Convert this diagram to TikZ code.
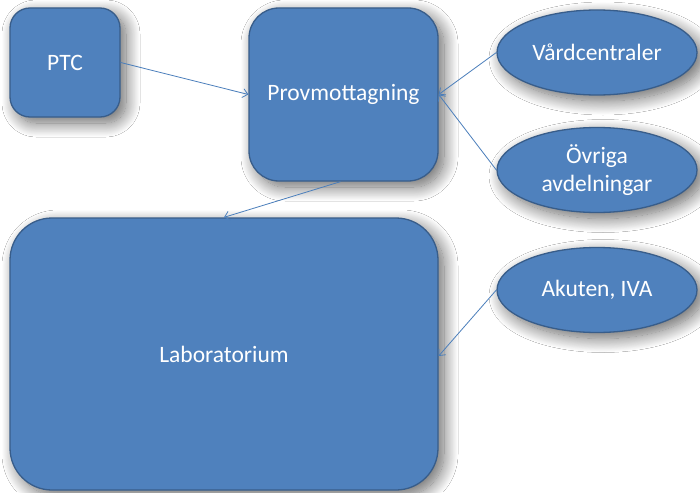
\documentclass[tikz,border=0pt]{standalone}
\usepackage{fontspec}
\setmainfont{Carlito}
\usetikzlibrary{shadows.blur,arrows.meta,shapes.geometric}
\definecolor{boxfill}{HTML}{4F81BD}
\definecolor{boxline}{HTML}{385D8A}
\definecolor{linkline}{HTML}{4A7EBB}
\tikzset{
  soft/.style={blur shadow={shadow xshift=6pt, shadow yshift=-6pt,
      shadow blur radius=14pt, shadow blur steps=20, shadow opacity=60}},
  unit/.style={soft, draw=boxline, line width=1.3pt, fill=boxfill,
      text=white, font=\fontsize{23.5}{28}\selectfont, align=center,
      inner sep=0pt},
  roundbox/.style={unit, rectangle},
  oval/.style={unit, ellipse, minimum width=200pt, minimum height=85pt},
  link/.style={draw=linkline, line width=0.8pt,
      -{Straight Barb[length=5pt, width=9pt, line width=0.8pt]}}
}
\begin{document}
\begin{tikzpicture}[x=1pt, y=-1pt]
  \useasboundingbox (0,0) rectangle (700,492);
  \fill[white] (0,0) rectangle (700,492);

  \node[roundbox, rounded corners=20pt, minimum width=110pt, minimum height=109pt]
    (ptc) at (65,62.5) {PTC};
  \node[roundbox, rounded corners=30pt, minimum width=189pt, minimum height=173pt]
    (prov) at (343.5,94.5) {Provmottagning};
  \node[roundbox, rounded corners=42pt, minimum width=428pt, minimum height=272pt]
    (lab) at (224,354) {Laboratorium};

  \node[oval] (vard) at (597,52.5) {Vårdcentraler};
  \node[oval] (ovr) at (597,170) {Övriga\\avdelningar};
  \node[oval] (aku) at (597,290) {Akuten, IVA};

  \draw[link] (ptc.east) -- (prov.west);
  \draw[link] (vard.west) -- (prov.east);
  \draw[link] (ovr.west) -- (prov.east);
  \draw[link] ([xshift=-3pt]prov.south) -- (lab.north);
  \draw[link] (aku.west) -- ([yshift=-2pt]lab.east);
\end{tikzpicture}
\end{document}
